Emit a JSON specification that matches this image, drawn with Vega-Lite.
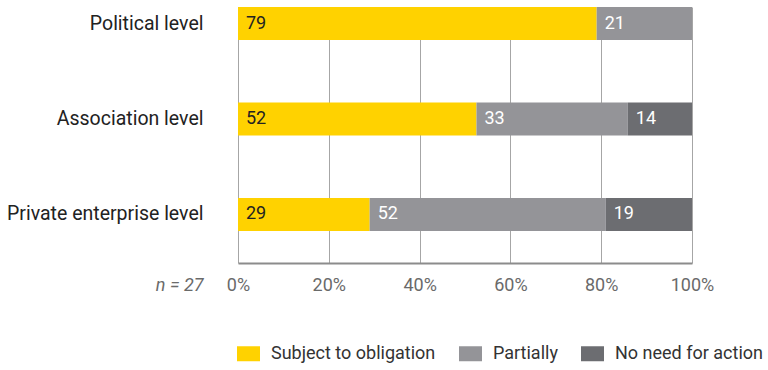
{
  "$schema": "https://vega.github.io/schema/vega-lite/v6.json",
  "width": 454,
  "height": 256,
  "autosize": {"type": "none"},
  "padding": {"left": 238, "top": 7, "right": 76, "bottom": 107},
  "config": {"font": "Roboto", "view": {"stroke": null}},
  "data": {
    "values": [
      {"level": "Political level", "category": "Subject to obligation", "value": 79, "order": 1},
      {"level": "Political level", "category": "Partially", "value": 21, "order": 2},
      {"level": "Association level", "category": "Subject to obligation", "value": 52, "order": 1},
      {"level": "Association level", "category": "Partially", "value": 33, "order": 2},
      {"level": "Association level", "category": "No need for action", "value": 14, "order": 3},
      {"level": "Private enterprise level", "category": "Subject to obligation", "value": 29, "order": 1},
      {"level": "Private enterprise level", "category": "Partially", "value": 52, "order": 2},
      {"level": "Private enterprise level", "category": "No need for action", "value": 19, "order": 3}
    ]
  },
  "transform": [
    {"stack": "value", "groupby": ["level"], "sort": [{"field": "order", "order": "ascending"}], "as": ["x0", "x1"], "offset": "normalize"}
  ],
  "encoding": {
    "y": {
      "field": "level",
      "type": "nominal",
      "sort": ["Political level", "Association level", "Private enterprise level"],
      "scale": {"paddingInner": 0.654, "paddingOuter": 0.1675, "align": 0},
      "axis": {"title": null, "domain": false, "ticks": false, "labelPadding": 35, "labelFontSize": 19.5, "labelColor": "#222222", "labelLimit": 300}
    }
  },
  "layer": [
    {
      "mark": {"type": "bar"},
      "encoding": {
        "x": {
          "field": "x0",
          "type": "quantitative",
          "scale": {"domain": [0, 1], "nice": false},
          "axis": {
            "title": "n = 27",
            "format": "%",
            "values": [0, 0.2, 0.4, 0.6, 0.8, 1],
            "grid": true,
            "gridColor": "#a6a6a6",
            "gridWidth": 1,
            "domainColor": "#8c8c8c",
            "domainWidth": 2,
            "ticks": false,
            "labelFlush": false,
            "labelPadding": 13,
            "labelFontSize": 18,
            "labelColor": "#6a6a6a",
            "titleFontStyle": "italic",
            "titleFontWeight": "normal",
            "titleFontSize": 18,
            "titleColor": "#6a6a6a",
            "titleX": -35,
            "titleY": 22,
            "titleAlign": "right",
            "titleBaseline": "middle"
          }
        },
        "x2": {"field": "x1"},
        "color": {
          "field": "category",
          "type": "nominal",
          "scale": {"domain": ["Subject to obligation", "Partially", "No need for action"], "range": ["#FFD200", "#949498", "#6C6D71"]},
          "legend": {
            "orient": "none",
            "legendX": -1,
            "legendY": 335,
            "direction": "horizontal",
            "title": null,
            "symbolType": "M-1,-0.652L1,-0.652L1,0.652L-1,0.652Z",
            "symbolSize": 529,
            "symbolStrokeWidth": 0,
            "symbolOpacity": 1,
            "labelFontSize": 18,
            "labelLimit": 400,
            "labelColor": "#333333",
            "labelOffset": 11,
            "columnPadding": 23,
            "padding": 0
          }
        }
      }
    },
    {
      "mark": {"type": "text", "align": "left", "dx": 8, "baseline": "middle", "fontSize": 18},
      "encoding": {
        "x": {"field": "x0", "type": "quantitative"},
        "text": {"field": "value"},
        "color": {"condition": {"test": "datum.category == 'Subject to obligation'", "value": "#222222"}, "value": "#ffffff"}
      }
    }
  ]
}
